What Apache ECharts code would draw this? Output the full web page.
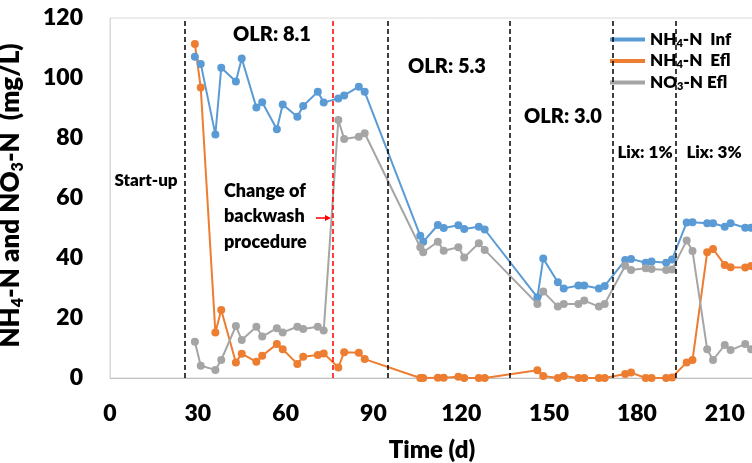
<!DOCTYPE html>
<html>
<head>
<meta charset="utf-8">
<script src="https://cdn.jsdelivr.net/npm/echarts@6/dist/echarts.min.js"></script>
<style>
html, body { margin: 0; padding: 0; background: #fff; }
#chart { width: 752px; height: 463px; }
</style>
</head>
<body>
<div id="chart"></div>
<script>
// sampling days (d)
var days = [29, 31, 36, 38, 43, 45, 50, 52, 57, 59, 64, 66, 71, 73, 78, 80, 85, 87,
	106, 107, 112, 114, 119, 121, 126, 128, 146, 148, 153, 155, 160, 162, 167, 169,
	176, 178, 183, 185, 190, 192, 197, 199, 204, 206, 210, 212, 217, 219];

// NH4-N influent (mg/L)
var nh4Inf = [107.1, 104.7, 81.2, 103.4, 98.8, 106.5, 90.2, 91.9, 82.9, 91.2, 87.1, 90.7, 95.4, 91.8, 93.2, 94.2, 97.1, 95.4,
	47.4, 45.4, 51, 50, 50.9, 49.7, 50.4, 49.5, 26.9, 39.8, 31.9, 29.8, 30.8, 30.8, 29.8, 30.7,
	39.3, 39.7, 38.4, 38.8, 38.4, 39.5, 51.8, 51.9, 51.6, 51.6, 50.4, 51.6, 50.1, 50.1];

// NH4-N effluent (mg/L)
var nh4Efl = [111.3, 96.8, 15.2, 22.7, 5.2, 8.1, 5.4, 7.4, 11.3, 9.6, 4.7, 7.1, 7.7, 8.2, 3.5, 8.6, 8.4, 6.3,
	0, 0, 0.1, 0.1, 0.4, 0, 0, 0, 2.6, 0.7, 0, 0.7, 0, 0, 0, 0,
	1.3, 1.8, 0, 0, 0, 0.2, 5.2, 6, 41.9, 43, 37.7, 36.9, 36.8, 37.3];

// NO3-N effluent (mg/L)
var no3Efl = [12.1, 4.1, 2.7, 6, 17.3, 12.7, 17.1, 13.8, 16.6, 15.2, 17.1, 16.3, 17.1, 15.8, 86, 79.7, 80.4, 81.6,
	43.6, 41.9, 45.4, 42.4, 43.6, 40.2, 44.9, 42.7, 24.7, 28.8, 23.8, 24.7, 24.7, 25.8, 23.8, 24.7,
	37.4, 36, 36.6, 36.3, 36, 36.2, 45.8, 42.3, 9.6, 6, 11, 9.3, 11.3, 9.6];

// phase boundaries (d)
var phaseDays = [25.4, 94.8, 136.7, 171.8, 193.1];
var backwashDay = 76.2;

var FONT = 'Lato, "Open Sans", sans-serif';
var W = 800;
var colors = ['#5B9BD5', '#ED7D31', '#A5A5A5'];

function pairs(ys) {
	return days.map(function (d, i) { return [d, ys[i]]; });
}

var legendText = {
	'NH4-N Inf': '{b|NH}{s|4}{b|-N  Inf}',
	'NH4-N Efl': '{b|NH}{s|4}{b|-N  Efl}',
	'NO3-N Efl': '{b|NO}{s|3}{b|-N Efl}'
};

var markLines = phaseDays.map(function (d) {
	return { xAxis: d };
});
markLines.push({ xAxis: backwashDay, lineStyle: { color: '#FF0000', width: 1.5, type: [5, 3] } });

function lineSeries(name, ys, color, withMarks) {
	var s = {
		name: name,
		type: 'line',
		data: pairs(ys),
		symbol: 'circle',
		symbolSize: 8,
		showSymbol: true,
		itemStyle: { color: color },
		lineStyle: { color: color, width: 2 },
		emphasis: { disabled: true },
		animation: false
	};
	if (withMarks) {
		s.markLine = {
			silent: true,
			symbol: ['none', 'none'],
			label: { show: false },
			lineStyle: { color: '#000', type: [5, 3], width: 1.5 },
			data: markLines,
			animation: false
		};
	}
	return s;
}

function txt(text, x, y, size, align) {
	return {
		type: 'text',
		x: x, y: y,
		style: {
			text: text,
			font: W + ' ' + size + 'px ' + FONT,
			fill: '#000',
			textAlign: align || 'center',
			textVerticalAlign: 'middle'
		}
	};
}

var chart = echarts.init(document.getElementById('chart'));

var option = {
	backgroundColor: '#fff',
	color: colors,
	grid: {
		left: 110, top: 18, right: -2, bottom: 85,
		outerBoundsMode: 'none',
		show: true, borderColor: '#D9D9D9', borderWidth: 1
	},
	legend: {
		orient: 'vertical',
		left: 605, top: 26,
		itemWidth: 35, itemHeight: 4, itemGap: 4,
		icon: 'rect',
		data: ['NH4-N Inf', 'NH4-N Efl', 'NO3-N Efl'],
		formatter: function (n) { return legendText[n]; },
		textStyle: {
			rich: {
				b: { fontFamily: FONT, fontWeight: W, fontSize: 17, color: '#000', lineHeight: 18 },
				s: { fontFamily: FONT, fontWeight: W, fontSize: 11, color: '#000', lineHeight: 10, verticalAlign: 'bottom' }
			}
		}
	},
	xAxis: {
		type: 'value',
		min: 0, max: 220, interval: 30,
		name: 'Time (d)',
		nameLocation: 'middle',
		nameGap: 60,
		nameTextStyle: { fontFamily: FONT, fontWeight: W, fontSize: 24, color: '#000' },
		axisLine: { show: true, lineStyle: { color: '#BFBFBF', width: 1 } },
		axisTick: { show: false },
		splitLine: { show: false },
		axisLabel: {
			margin: 24,
			fontFamily: FONT, fontWeight: W, fontSize: 23, color: '#000',
			formatter: function (v) { return v % 30 === 0 ? String(v) : ''; }
		}
	},
	yAxis: {
		type: 'value',
		min: 0, max: 120, interval: 20,
		name: '{b|NH}{s|4}{b|-N and NO}{s|3}{b|-N  (mg/L)}',
		nameLocation: 'middle',
		nameRotate: 90,
		nameGap: 84,
		nameTextStyle: {
			padding: [0, 0, 0, 5],
			rich: {
				b: { fontFamily: FONT, fontWeight: W, fontSize: 26, color: '#000', lineHeight: 30 },
				s: { fontFamily: FONT, fontWeight: W, fontSize: 16, color: '#000', lineHeight: 16, verticalAlign: 'bottom' }
			}
		},
		axisLine: { show: true, lineStyle: { color: '#D9D9D9', width: 1 } },
		axisTick: { show: false },
		splitLine: { show: false },
		axisLabel: {
			margin: 27,
			fontFamily: FONT, fontWeight: W, fontSize: 23, color: '#000'
		}
	},
	series: [
		lineSeries('NH4-N Inf', nh4Inf, colors[0], true),
		lineSeries('NH4-N Efl', nh4Efl, colors[1], false),
		lineSeries('NO3-N Efl', no3Efl, colors[2], false)
	],
	graphic: [
		txt('OLR: 8.1', 272, 35, 20),
		txt('OLR: 5.3', 447, 67, 20),
		txt('OLR: 3.0', 563, 117, 20),
		txt('Lix: 1%', 645, 153, 17),
		txt('Lix: 3%', 714, 153, 17),
		txt('Start-up', 146, 181, 17),
		txt('Change of', 224, 191, 18, 'left'),
		txt('backwash', 224, 216, 18, 'left'),
		txt('procedure', 224, 242, 18, 'left'),
		{
			type: 'line',
			shape: { x1: 316, y1: 218, x2: 326, y2: 218 },
			style: { stroke: '#FF0000', lineWidth: 1.5 }
		},
		{
			type: 'polygon',
			shape: { points: [[325, 215], [331, 218], [325, 221]] },
			style: { fill: '#FF0000' }
		}
	]
};

chart.setOption(option);
</script>
</body>
</html>
